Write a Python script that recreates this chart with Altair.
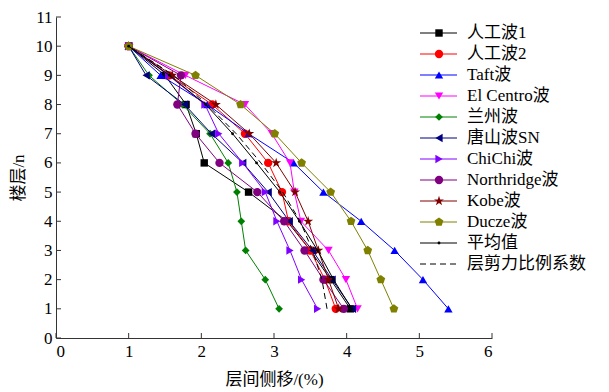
import altair as alt
import pandas as pd

floors = [10, 9, 8, 7, 6, 5, 4, 3, 2, 1]

series_names = ["人工波1", "人工波2", "Taft波", "El Centro波", "兰州波", "唐山波SN",
                "ChiChi波", "Northridge波", "Kobe波", "Ducze波", "平均值", "层剪力比例系数"]

wave1 = [1.0, 1.50, 1.79, 1.93, 2.04, 2.65, 3.18, 3.50, 3.78, 4.05]
wave2 = [1.0, 1.56, 2.15, 2.60, 2.92, 3.11, 3.20, 3.50, 3.70, 3.85]
taft = [1.0, 1.44, 2.08, 2.65, 3.27, 3.68, 4.20, 4.66, 5.05, 5.40]
elcentro = [1.0, 1.78, 2.60, 2.97, 3.22, 3.28, 3.37, 3.75, 3.99, 4.15]
lanzhou = [1.0, 1.28, 1.74, 2.12, 2.37, 2.49, 2.55, 2.61, 2.88, 3.07]
tangshan = [1.0, 1.24, 1.77, 2.14, 2.57, 2.92, 3.21, 3.53, 3.80, 4.08]
chichi = [1.0, 1.55, 2.05, 2.24, 2.57, 2.88, 3.04, 3.22, 3.38, 3.60]
northridge = [1.0, 1.72, 1.67, 1.92, 2.25, 2.77, 3.14, 3.42, 3.68, 3.96]
kobe = [1.0, 1.60, 2.20, 2.66, 3.03, 3.29, 3.47, 3.61, 3.75, 3.89]
ducze = [1.0, 1.92, 2.54, 3.01, 3.38, 3.78, 4.06, 4.29, 4.47, 4.65]
average = [1.0, 1.56, 2.06, 2.43, 2.76, 3.08, 3.35, 3.60, 3.82, 4.07]
shear_ratio = [1.0, 1.62, 2.08, 2.48, 2.82, 3.12, 3.36, 3.53, 3.66, 3.73]

all_values = [wave1, wave2, taft, elcentro, lanzhou, tangshan, chichi,
              northridge, kobe, ducze, average, shear_ratio]

colors = ["#000000", "#FF0000", "#0000FF", "#FF00FF", "#008000", "#000080",
          "#8000FF", "#800080", "#800000", "#808000", "#000000", "#000000"]
pentagon = "M0,-1L0.951,-0.309L0.588,0.809L-0.588,0.809L-0.951,-0.309Z"
star = ("M0,-1L0.2245,-0.309L0.951,-0.309L0.3633,0.118L0.588,0.809L0,0.382"
        "L-0.588,0.809L-0.3633,0.118L-0.951,-0.309L-0.2245,-0.309Z")
shapes = ["square", "circle", "triangle-up", "triangle-down", "diamond",
          "triangle-left", "triangle-right", "circle", star, pentagon,
          "circle", None]
sizes = [55, 70, 70, 70, 60, 70, 70, 70, 110, 85, 8, None]

x_ticks = [0, 1, 2, 3, 4, 5, 6]
y_ticks = list(range(0, 12))

FONT = "Liberation Serif, Times New Roman, Noto Sans CJK SC"
W, H = 436, 321

xs = alt.Scale(domain=[0, 6], nice=False, zero=False)
ys = alt.Scale(domain=[0, 11], nice=False, zero=False)

axis_common = dict(ticks=False, grid=False, labelFontSize=17, titleFontSize=17,
                   labelFont=FONT, titleFont=FONT, domainColor="#333333",
                   labelColor="#000000", titleColor="#000000",
                   titleFontWeight="normal", format="d")

x_axis = alt.Axis(values=x_ticks, title="层间侧移/(%)", labelPadding=5,
                  titlePadding=12, **axis_common)
y_axis = alt.Axis(values=y_ticks, title="楼层/n", labelPadding=4,
                  titlePadding=8, **axis_common)


def X(field):
    return alt.X(field, scale=xs, axis=x_axis)


def Y(field):
    return alt.Y(field, scale=ys, axis=y_axis)


layers = []
for i, (name, vals) in enumerate(zip(series_names, all_values)):
    d = pd.DataFrame({"floor": floors, "drift": vals})
    c = alt.Chart(d)
    line_kwargs = dict(strokeWidth=1, color=colors[i])
    if name == "层剪力比例系数":
        line_kwargs["strokeDash"] = [6, 4]
    layers.append(c.mark_line(**line_kwargs).encode(
        x=X("drift:Q"), y=Y("floor:Q"), order=alt.Order("floor:Q"),
    ))
    if shapes[i] is not None:
        layers.append(c.mark_point(filled=True, opacity=1, strokeWidth=0,
                                   shape=shapes[i], size=sizes[i],
                                   color=colors[i]).encode(
            x=X("drift:Q"), y=Y("floor:Q"),
        ))

layers.append(alt.Chart(pd.DataFrame({"t": x_ticks})).mark_rule(color="#333333").encode(
    x=X("t:Q"), y=alt.value(H), y2=alt.value(H - 5)))
layers.append(alt.Chart(pd.DataFrame({"t": y_ticks})).mark_rule(color="#333333").encode(
    y=Y("t:Q"), x=alt.value(0), x2=alt.value(5)))

one = pd.DataFrame({"a": [0]})
for i, name in enumerate(series_names):
    yy = 16 + 21 * i
    rk = dict(strokeWidth=1, color=colors[i])
    if name == "层剪力比例系数":
        rk["strokeDash"] = [6, 4]
    layers.append(alt.Chart(one).mark_rule(**rk).encode(
        x=alt.value(364), x2=alt.value(401), y=alt.value(yy)))
    if shapes[i] is not None:
        layers.append(alt.Chart(one).mark_point(filled=True, opacity=1, strokeWidth=0,
                                                shape=shapes[i], size=sizes[i],
                                                color=colors[i]).encode(
            x=alt.value(383), y=alt.value(yy)))
    layers.append(alt.Chart(one).mark_text(align="left", baseline="middle", font=FONT,
                                           fontSize=17, color="#000000", text=name).encode(
        x=alt.value(411), y=alt.value(yy)))

chart = alt.layer(*layers).properties(
    width=W, height=H,
    padding={"left": 1, "top": 0, "right": 5, "bottom": 2},
).configure_view(stroke=None)

chart.save("out.html", embed_options={"renderer": "svg", "actions": False})
